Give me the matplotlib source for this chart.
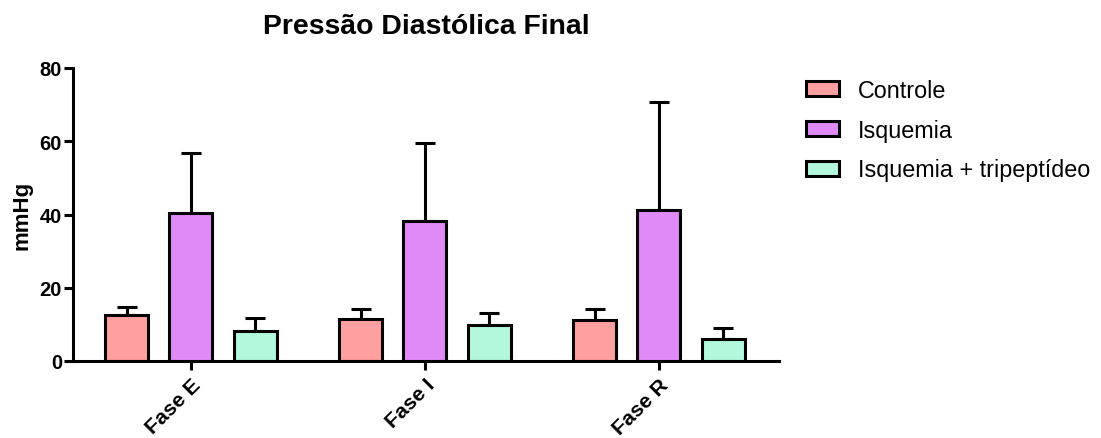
import matplotlib
matplotlib.use("Agg")
import matplotlib.pyplot as plt
import numpy as np
from matplotlib.patches import Patch

plt.rcParams['font.family'] = ['Liberation Sans', 'DejaVu Sans']

phases = ["Fase E", "Fase I", "Fase R"]
groups = ["Controle", "Isquemia", "Isquemia + tripeptídeo"]
colors = ["#FFA0A0", "#DF8AF7", "#B3F7DD"]

controle = [12.5, 11.4, 11.2]
controle_err = [2.2, 2.7, 2.9]
isquemia = [40.5, 38.1, 41.3]
isquemia_err = [16.3, 21.3, 29.3]
tripeptideo = [8.2, 9.7, 5.9]
tripeptideo_err = [3.6, 3.3, 3.2]

means = [controle, isquemia, tripeptideo]
errs = [controle_err, isquemia_err, tripeptideo_err]

W, H, DPI = 1101, 439, 100
fig = plt.figure(figsize=(W / DPI, H / DPI), dpi=DPI)
ax = fig.add_axes([73 / W, 1 - 362 / H, (779 - 73) / W, (362 - 69) / H])

lw = 2.2
x = np.arange(len(phases))
width = 0.184
pitch = 0.274
for i, (m, e, c) in enumerate(zip(means, errs, colors)):
    pos = x + (i - 1) * pitch
    ax.bar(pos, m, width=width, color=c, edgecolor="black", linewidth=lw,
           zorder=2)
    ax.errorbar(pos, m, yerr=[np.zeros(len(e)), e], fmt="none",
                ecolor="black", elinewidth=lw, capsize=7.5, capthick=lw,
                zorder=1)

ax.set_xlim(-0.504, 2.513)
ax.set_ylim(0, 80)
ax.set_yticks([0, 20, 40, 60, 80])
ax.set_xticks(x)
ax.set_xticklabels(phases, rotation=45, ha="right", rotation_mode="anchor",
                   fontsize=15.3, fontweight="bold")
for lab in ax.get_yticklabels():
    lab.set_fontsize(14.5)
    lab.set_fontweight("bold")

for s in ["top", "right"]:
    ax.spines[s].set_visible(False)
for s in ["left", "bottom"]:
    ax.spines[s].set_linewidth(lw)
ax.tick_params(axis="both", width=lw, length=6.5, color="black")
ax.tick_params(axis="y", pad=1.5)
ax.tick_params(axis="x", pad=3.5)

ax.set_ylabel("mmHg", fontsize=16, fontweight="bold", labelpad=5)
ax.set_title("Pressão Diastólica Final", fontsize=20.4, fontweight="bold",
             pad=25)

handles = [Patch(facecolor=c, edgecolor="black", linewidth=lw) for c in colors]
fig.legend(handles, groups, loc="upper left",
           bbox_to_anchor=(797 / W, 1 - 70.5 / H), frameon=False,
           fontsize=16.8, handlelength=1.42, handleheight=0.64,
           labelspacing=0.72, handletextpad=0.78, borderaxespad=0)

fig.savefig("out.png", dpi=DPI)
